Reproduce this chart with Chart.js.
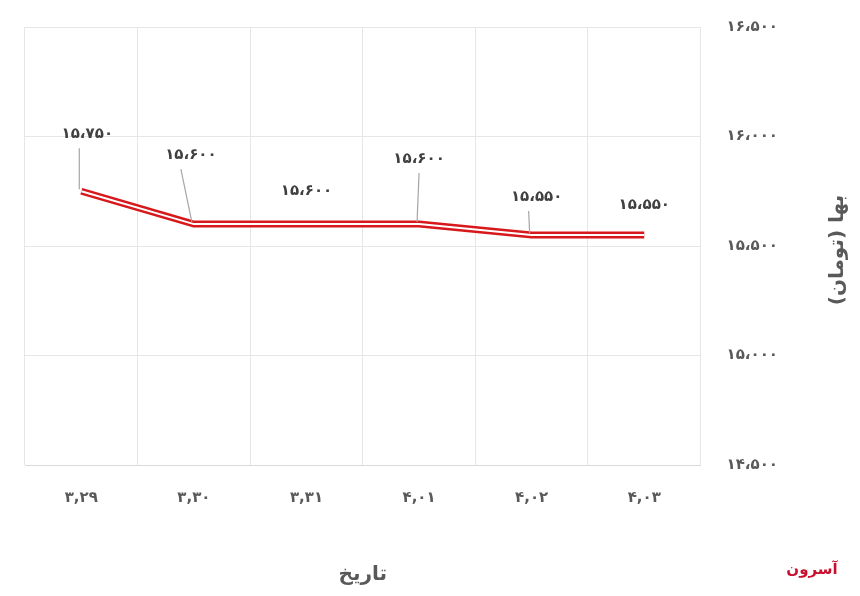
<!DOCTYPE html>
<html><head><meta charset="utf-8">
<script src="https://cdn.jsdelivr.net/npm/chart.js@4"></script>
<style>html,body{margin:0;background:#fff;overflow:hidden}#w{width:860px;height:604px;position:absolute;top:-8px;left:0}</style>
</head><body><div id="w"><canvas id="c"></canvas></div>
<script>
const categories = ['۳,۲۹','۳,۳۰','۳,۳۱','۴,۰۱','۴,۰۲','۴,۰۳'];
const prices = [15750, 15600, 15600, 15600, 15550, 15550];
const yTicks = [14500, 15000, 15500, 16000, 16500];

const fa = n => String(n).replace(/\d/g, d => '۰۱۲۳۴۵۶۷۸۹'[d]);
const fmt = v => { const s = String(v); return fa(s.slice(0, s.length-3)) + '،' + fa(s.slice(-3)); };

const labelOffsets = [[6,-57,1],[-3,-69,1],[0,-33,0],[0,-65,1],[5,-38,1],[0,-30,0]];
const labelPlugin = {
  id:'lbl',
  afterDatasetsDraw(chart){
    const ctx = chart.ctx, meta = chart.getDatasetMeta(0);
    ctx.save();
    ctx.font = 'bold 15px "DejaVu Sans"';
    ctx.textAlign='center'; ctx.textBaseline='middle';
    meta.data.forEach((p,i)=>{
      const [dx,dy,lead]=labelOffsets[i];
      const lx=p.x+dx, ly=p.y+dy;
      if(lead){
        ctx.strokeStyle='#a6a6a6'; ctx.lineWidth=1.2;
        ctx.beginPath(); ctx.moveTo(lx-(i==0?8:i==1?10:i==4?8:0), ly+14); ctx.lineTo(p.x-2, p.y-2); ctx.stroke();
      }
      ctx.fillStyle='#404040';
      ctx.fillText(fmt(prices[i]), lx, ly);
    });
    ctx.fillStyle='#595959'; ctx.font='bold 20px "DejaVu Sans"';
    ctx.translate(838, 258); ctx.rotate(-Math.PI/2); ctx.fillText('بها (تومان)', 0, 0);
    ctx.setTransform(1,0,0,1,0,0);
    ctx.font='bold 15px "DejaVu Sans"'; ctx.fillStyle='#c8102e';
    ctx.fillText('آسرون', 812, 578);
    ctx.restore();
  }
};

new Chart(document.getElementById('c'), {
  type:'line',
  data:{labels:categories, datasets:[
    {data:prices, borderColor:'#d7191c', borderWidth:7, pointRadius:0, tension:0, order:2},
    {data:prices, borderColor:'#ffffff', borderWidth:2, pointRadius:0, tension:0, order:1}
  ]},
  options:{
    responsive:true, maintainAspectRatio:false, animation:false,
    layout:{padding:{left:25, top:2, right:18, bottom:5}},
    plugins:{legend:{display:false}, tooltip:{enabled:false}},
    scales:{
      x:{offset:true, grid:{offset:true, color:'#e6e6e6', drawTicks:false}, border:{color:'#d9d9d9'},
        ticks:{padding:24, color:'#595959', font:{family:'DejaVu Sans', size:15, weight:'bold'}},
        title:{display:true, text:'تاریخ', color:'#595959', font:{family:'DejaVu Sans', size:20, weight:'bold'}, padding:{top:32}}},
      y:{position:'right', min:14500, max:16500, afterBuildTicks:s=>{s.ticks=yTicks.map(v=>({value:v}));},
        grid:{color:'#e6e6e6', drawTicks:false}, border:{display:false},
        ticks:{padding:26, color:'#595959', callback:v=>fmt(v), font:{family:'DejaVu Sans', size:15, weight:'bold'}},
        title:{display:true, text:'بها (تومان)', color:'rgba(0,0,0,0)', font:{family:'DejaVu Sans', size:20, weight:'bold'}, padding:{top:10}}}
    }
  },
  plugins:[labelPlugin]
});
</script></body></html>
